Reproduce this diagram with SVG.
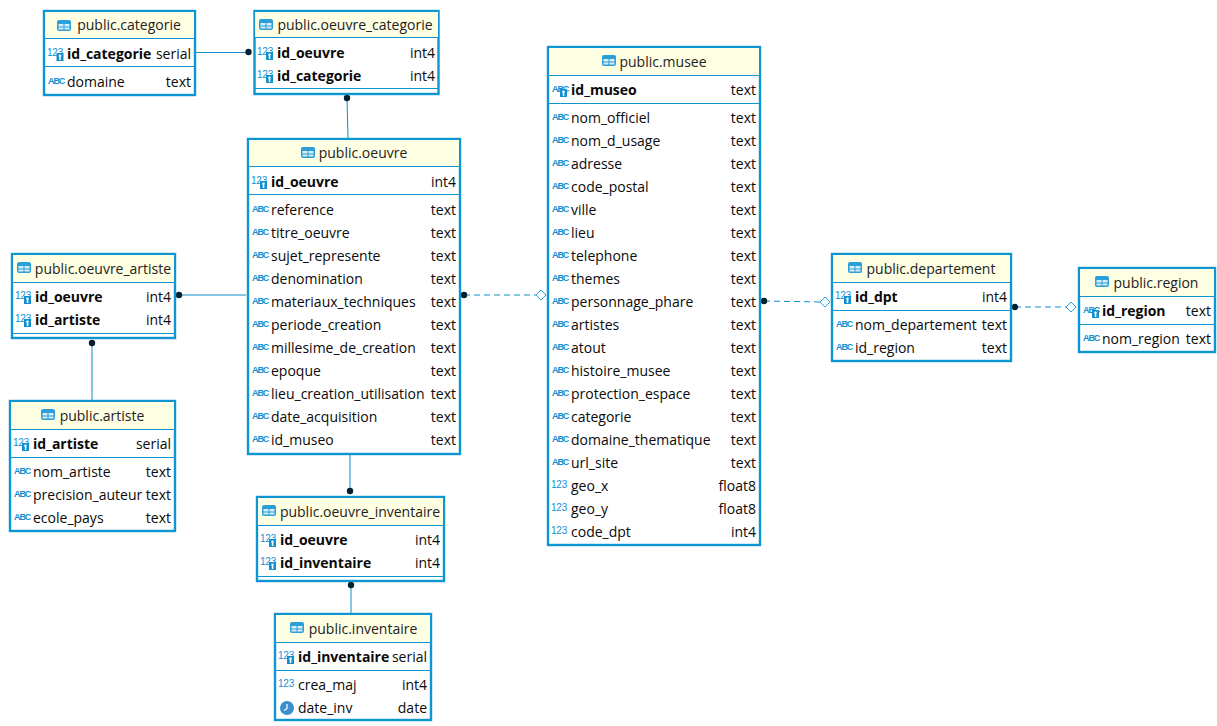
<svg xmlns="http://www.w3.org/2000/svg" width="1217" height="726" viewBox="0 0 1217 726">
<style>
text{font-family:"Open Sans","Noto Sans","Liberation Sans",sans-serif;font-size:14px;fill:#0a0a0a}
.t{fill:#fff;stroke:#0d96d2;stroke-width:2.4}
.h{fill:#ffffe4}
.s{stroke:#0d96d2;stroke-width:1;fill:none}
.k{font-weight:700}
.e{text-anchor:end}
.c{text-anchor:middle;fill:#222}
.i{font-size:9px;font-weight:700;fill:#1490d0;font-family:"Liberation Sans",sans-serif;letter-spacing:-1.1px}
.n{font-size:10px;font-weight:400;fill:#1490d0;font-family:"Liberation Sans",sans-serif;letter-spacing:-.2px}
.l{stroke:#0d8fc9;stroke-width:1;fill:none}
.d{stroke-dasharray:6 4}
.o{fill:#fff;stroke:#2aa3dc;stroke-width:1}
.p{fill:#03202f}
</style>
<defs>
<g id="tb"><rect x="0" y="0" width="14" height="11" rx="2" fill="#2b9fd8"/><rect x="1.500" y="4" width="5" height="2.500" fill="#d8eefa"/><rect x="7.500" y="4" width="5" height="2.500" fill="#d8eefa"/><rect x="1.500" y="7.500" width="5" height="2" fill="#d8eefa"/><rect x="7.500" y="7.500" width="5" height="2" fill="#d8eefa"/></g>
<g id="key"><rect x="0" y="0" width="7" height="8" fill="#1490d0"/><circle cx="3.500" cy="2.800" r="1.300" fill="#fff"/><rect x="2.800" y="4" width="1.500" height="3" fill="#fff"/></g>
<g id="clk"><circle cx="7" cy="7" r="7" fill="#3b8fcb"/><path d="M7 3v4.500L4 9.500" stroke="#fff" stroke-width="1.200" fill="none"/></g>
</defs>
<g id="connectors">
<path class="l" d="M195 52.500H248"/><circle class="p" cx="248.500" cy="52" r="3.200"/>
<path class="l" d="M347 98L348 138"/><circle class="p" cx="347" cy="98" r="3.200"/>
<path class="l" d="M179 295H246"/><circle class="p" cx="179" cy="295" r="3.200"/>
<path class="l" d="M92 343V400"/><circle class="p" cx="92" cy="343" r="3.200"/>
<path class="l" d="M350 455V491"/><circle class="p" cx="350" cy="491" r="3.200"/>
<path class="l" d="M351 585V613"/><circle class="p" cx="351" cy="585" r="3.200"/>
<path class="l d" d="M464 295H536"/><circle class="p" cx="464" cy="295" r="3.200"/><path class="o" d="M536 295l5-5 5 5-5 5z"/>
<path class="l d" d="M764 301L820 302"/><circle class="p" cx="764" cy="301" r="3.200"/><path class="o" d="M820 302l5-5 5 5-5 5z"/>
<path class="l d" d="M1015 307H1066"/><circle class="p" cx="1015" cy="307" r="3.200"/><path class="o" d="M1066 307l5-5 5 5-5 5z"/>
</g>
<g id="categorie">
<rect class="t" x="44" y="11" width="151" height="84"/><rect class="h" x="45" y="12" width="149" height="26"/><path class="s" d="M44 38.500H195M44 66.500H195"/>
<use href="#tb" x="57" y="20"/><text class="c" x="129" y="30">public.categorie</text>
<text class="n" x="47" y="56">123</text><use href="#key" x="56.500" y="53"/><text class="k" x="67" y="59">id_categorie</text><text class="e" x="191" y="59">serial</text>
<text class="i" x="48" y="84">ABC</text><text x="67" y="87">domaine</text><text class="e" x="191" y="87">text</text>
</g>
<g id="oeuvre_categorie">
<rect class="t" x="254.500" y="11" width="184" height="83"/><rect class="h" x="255" y="12" width="183" height="25.500"/><path class="s" d="M254 37.500H438M254 88.500H438"/>
<use href="#tb" x="259" y="19"/><text class="c" x="355" y="30">public.oeuvre_categorie</text>
<text class="n" x="257" y="55">123</text><use href="#key" x="266" y="52"/><text class="k" x="277" y="58">id_oeuvre</text><text class="e" x="435" y="58">int4</text>
<text class="n" x="257" y="78">123</text><use href="#key" x="266" y="75"/><text class="k" x="277" y="81">id_categorie</text><text class="e" x="435" y="81">int4</text>
</g>
<g id="oeuvre">
<rect class="t" x="248" y="139" width="212" height="315"/><rect class="h" x="249" y="140" width="210" height="26"/><path class="s" d="M248 166.500H460M248 194.500H460"/>
<use href="#tb" x="301" y="147"/><text class="c" x="363" y="158">public.oeuvre</text>
<text class="n" x="251" y="184">123</text><use href="#key" x="260" y="181"/><text class="k" x="271" y="187">id_oeuvre</text><text class="e" x="456" y="187">int4</text>
<text class="i" x="252" y="212">ABC</text><text x="271" y="215">reference</text><text class="e" x="456" y="215">text</text>
<text class="i" x="252" y="235">ABC</text><text x="271" y="238">titre_oeuvre</text><text class="e" x="456" y="238">text</text>
<text class="i" x="252" y="258">ABC</text><text x="271" y="261">sujet_represente</text><text class="e" x="456" y="261">text</text>
<text class="i" x="252" y="281">ABC</text><text x="271" y="284">denomination</text><text class="e" x="456" y="284">text</text>
<text class="i" x="252" y="304">ABC</text><text x="271" y="307">materiaux_techniques</text><text class="e" x="456" y="307">text</text>
<text class="i" x="252" y="327">ABC</text><text x="271" y="330">periode_creation</text><text class="e" x="456" y="330">text</text>
<text class="i" x="252" y="350">ABC</text><text x="271" y="353">millesime_de_creation</text><text class="e" x="456" y="353">text</text>
<text class="i" x="252" y="373">ABC</text><text x="271" y="376">epoque</text><text class="e" x="456" y="376">text</text>
<text class="i" x="252" y="396">ABC</text><text x="271" y="399">lieu_creation_utilisation</text><text class="e" x="456" y="399">text</text>
<text class="i" x="252" y="419">ABC</text><text x="271" y="422">date_acquisition</text><text class="e" x="456" y="422">text</text>
<text class="i" x="252" y="442">ABC</text><text x="271" y="445">id_museo</text><text class="e" x="456" y="445">text</text>
</g>
<g id="oeuvre_artiste">
<rect class="t" x="12" y="254" width="163" height="84"/><rect class="h" x="13" y="255" width="161" height="27"/><path class="s" d="M12 282.500H175M12 333.500H175"/>
<use href="#tb" x="17" y="262"/><text class="c" x="103" y="274">public.oeuvre_artiste</text>
<text class="n" x="15" y="299">123</text><use href="#key" x="24" y="296"/><text class="k" x="35" y="302">id_oeuvre</text><text class="e" x="171" y="302">int4</text>
<text class="n" x="15" y="322">123</text><use href="#key" x="24" y="319"/><text class="k" x="35" y="325">id_artiste</text><text class="e" x="171" y="325">int4</text>
</g>
<g id="artiste">
<rect class="t" x="10" y="401" width="165" height="130"/><rect class="h" x="11" y="402" width="163" height="27"/><path class="s" d="M10 429.500H175M10 457.500H175"/>
<use href="#tb" x="41" y="409"/><text class="c" x="102" y="421">public.artiste</text>
<text class="n" x="13" y="446">123</text><use href="#key" x="22" y="443"/><text class="k" x="33" y="449">id_artiste</text><text class="e" x="171" y="449">serial</text>
<text class="i" x="14" y="474">ABC</text><text x="33" y="477">nom_artiste</text><text class="e" x="171" y="477">text</text>
<text class="i" x="14" y="497">ABC</text><text x="33" y="500">precision_auteur</text><text class="e" x="171" y="500">text</text>
<text class="i" x="14" y="520">ABC</text><text x="33" y="523">ecole_pays</text><text class="e" x="171" y="523">text</text>
</g>
<g id="oeuvre_inventaire">
<rect class="t" x="257" y="497" width="187" height="84"/><rect class="h" x="258" y="498" width="185" height="27"/><path class="s" d="M257 525.500H444M257 576.500H444"/>
<use href="#tb" x="262" y="505"/><text class="c" x="360" y="517">public.oeuvre_inventaire</text>
<text class="n" x="260" y="542">123</text><use href="#key" x="269" y="539"/><text class="k" x="280" y="545">id_oeuvre</text><text class="e" x="440" y="545">int4</text>
<text class="n" x="260" y="565">123</text><use href="#key" x="269" y="562"/><text class="k" x="280" y="568">id_inventaire</text><text class="e" x="440" y="568">int4</text>
</g>
<g id="inventaire">
<rect class="t" x="275" y="614" width="156" height="106"/><rect class="h" x="276" y="615" width="154" height="27"/><path class="s" d="M275 642.500H431M275 670.500H431"/>
<use href="#tb" x="290" y="622"/><text class="c" x="363" y="634">public.inventaire</text>
<text class="n" x="278" y="659">123</text><use href="#key" x="287" y="656"/><text class="k" x="298" y="662">id_inventaire</text><text class="e" x="427" y="662">serial</text>
<text class="n" x="278" y="687">123</text><text x="298" y="690">crea_maj</text><text class="e" x="427" y="690">int4</text>
<use href="#clk" x="280" y="701"/><text x="298" y="713">date_inv</text><text class="e" x="427" y="713">date</text>
</g>
<g id="musee">
<rect class="t" x="548" y="47" width="212" height="498"/><rect class="h" x="549" y="48" width="210" height="27"/><path class="s" d="M548 75.500H760M548 103.500H760"/>
<use href="#tb" x="602" y="55"/><text class="c" x="663" y="67">public.musee</text>
<text class="i" x="552" y="92">ABC</text><use href="#key" x="560" y="89"/><text class="k" x="571" y="95">id_museo</text><text class="e" x="756" y="95">text</text>
<text class="i" x="552" y="120">ABC</text><text x="571" y="123">nom_officiel</text><text class="e" x="756" y="123">text</text>
<text class="i" x="552" y="143">ABC</text><text x="571" y="146">nom_d_usage</text><text class="e" x="756" y="146">text</text>
<text class="i" x="552" y="166">ABC</text><text x="571" y="169">adresse</text><text class="e" x="756" y="169">text</text>
<text class="i" x="552" y="189">ABC</text><text x="571" y="192">code_postal</text><text class="e" x="756" y="192">text</text>
<text class="i" x="552" y="212">ABC</text><text x="571" y="215">ville</text><text class="e" x="756" y="215">text</text>
<text class="i" x="552" y="235">ABC</text><text x="571" y="238">lieu</text><text class="e" x="756" y="238">text</text>
<text class="i" x="552" y="258">ABC</text><text x="571" y="261">telephone</text><text class="e" x="756" y="261">text</text>
<text class="i" x="552" y="281">ABC</text><text x="571" y="284">themes</text><text class="e" x="756" y="284">text</text>
<text class="i" x="552" y="304">ABC</text><text x="571" y="307">personnage_phare</text><text class="e" x="756" y="307">text</text>
<text class="i" x="552" y="327">ABC</text><text x="571" y="330">artistes</text><text class="e" x="756" y="330">text</text>
<text class="i" x="552" y="350">ABC</text><text x="571" y="353">atout</text><text class="e" x="756" y="353">text</text>
<text class="i" x="552" y="373">ABC</text><text x="571" y="376">histoire_musee</text><text class="e" x="756" y="376">text</text>
<text class="i" x="552" y="396">ABC</text><text x="571" y="399">protection_espace</text><text class="e" x="756" y="399">text</text>
<text class="i" x="552" y="419">ABC</text><text x="571" y="422">categorie</text><text class="e" x="756" y="422">text</text>
<text class="i" x="552" y="442">ABC</text><text x="571" y="445">domaine_thematique</text><text class="e" x="756" y="445">text</text>
<text class="i" x="552" y="465">ABC</text><text x="571" y="468">url_site</text><text class="e" x="756" y="468">text</text>
<text class="n" x="551" y="488">123</text><text x="571" y="491">geo_x</text><text class="e" x="756" y="491">float8</text>
<text class="n" x="551" y="511">123</text><text x="571" y="514">geo_y</text><text class="e" x="756" y="514">float8</text>
<text class="n" x="551" y="534">123</text><text x="571" y="537">code_dpt</text><text class="e" x="756" y="537">int4</text>
</g>
<g id="departement">
<rect class="t" x="832" y="254" width="179" height="107"/><rect class="h" x="833" y="255" width="177" height="27"/><path class="s" d="M832 282.500H1011M832 310.500H1011"/>
<use href="#tb" x="848" y="262"/><text class="c" x="931" y="274">public.departement</text>
<text class="n" x="835" y="299">123</text><use href="#key" x="844" y="296"/><text class="k" x="855" y="302">id_dpt</text><text class="e" x="1007" y="302">int4</text>
<text class="i" x="836" y="327">ABC</text><text x="855" y="330">nom_departement</text><text class="e" x="1007" y="330">text</text>
<text class="i" x="836" y="350">ABC</text><text x="855" y="353">id_region</text><text class="e" x="1007" y="353">text</text>
</g>
<g id="region">
<rect class="t" x="1079" y="268" width="136" height="84"/><rect class="h" x="1080" y="269" width="134" height="27"/><path class="s" d="M1079 296.500H1215M1079 324.500H1215"/>
<use href="#tb" x="1095" y="276"/><text class="c" x="1156" y="288">public.region</text>
<text class="i" x="1083" y="313">ABC</text><use href="#key" x="1092" y="310"/><text class="k" x="1102" y="316">id_region</text><text class="e" x="1211" y="316">text</text>
<text class="i" x="1083" y="341">ABC</text><text x="1102" y="344">nom_region</text><text class="e" x="1211" y="344">text</text>
</g>
</svg>
